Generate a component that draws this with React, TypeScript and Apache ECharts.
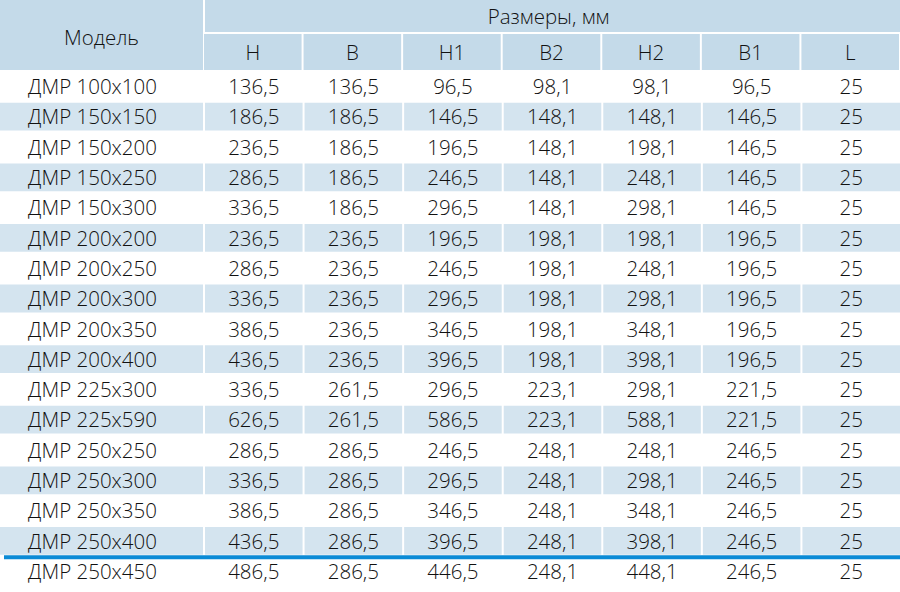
import React, { useEffect, useRef } from "react";
import * as echarts from "echarts";

const modelHeader = "Модель";
const groupHeader = "Размеры, мм";
const columns = ["H", "B", "H1", "B2", "H2", "B1", "L"];
const models = [
  "ДМР 100x100", "ДМР 150x150", "ДМР 150x200", "ДМР 150x250", "ДМР 150x300",
  "ДМР 200x200", "ДМР 200x250", "ДМР 200x300", "ДМР 200x350", "ДМР 200x400",
  "ДМР 225x300", "ДМР 225x590", "ДМР 250x250", "ДМР 250x300", "ДМР 250x350",
  "ДМР 250x400", "ДМР 250x450",
];
const colH = [136.5, 186.5, 236.5, 286.5, 336.5, 236.5, 286.5, 336.5, 386.5, 436.5, 336.5, 626.5, 286.5, 336.5, 386.5, 436.5, 486.5];
const colB = [136.5, 186.5, 186.5, 186.5, 186.5, 236.5, 236.5, 236.5, 236.5, 236.5, 261.5, 261.5, 286.5, 286.5, 286.5, 286.5, 286.5];
const colH1 = [96.5, 146.5, 196.5, 246.5, 296.5, 196.5, 246.5, 296.5, 346.5, 396.5, 296.5, 586.5, 246.5, 296.5, 346.5, 396.5, 446.5];
const colB2 = [98.1, 148.1, 148.1, 148.1, 148.1, 198.1, 198.1, 198.1, 198.1, 198.1, 223.1, 223.1, 248.1, 248.1, 248.1, 248.1, 248.1];
const colH2 = [98.1, 148.1, 198.1, 248.1, 298.1, 198.1, 248.1, 298.1, 348.1, 398.1, 298.1, 588.1, 248.1, 298.1, 348.1, 398.1, 448.1];
const colB1 = [96.5, 146.5, 146.5, 146.5, 146.5, 196.5, 196.5, 196.5, 196.5, 196.5, 221.5, 221.5, 246.5, 246.5, 246.5, 246.5, 246.5];
const colL = [25, 25, 25, 25, 25, 25, 25, 25, 25, 25, 25, 25, 25, 25, 25, 25, 25];
const values = [colH, colB, colH1, colB2, colH2, colB1, colL];
const highlightAfter = "ДМР 250x400";

const HEAD = "#c4dae9";
const SHADE = "#d4e4ef";
const TEXT = "#111111";
const BLUE = "#0b8bd6";
const FONT = "'Open Sans', 'Noto Sans', sans-serif";
const FS = 20.5;
const FW = 300;

const fmt = (v: number, c: number) =>
  c === columns.length - 1 ? String(v) : v.toFixed(1).replace(".", ",");

export default function App() {
  const ref = useRef<HTMLDivElement>(null);
  useEffect(() => {
    if (!ref.current) return;
    const chart = echarts.init(ref.current, undefined, { renderer: "svg" });
    const cellData: number[][] = [];
    values.forEach((col, c) => col.forEach((_, r) => cellData.push([c, r])));
    const modelData = models.map((_, r) => [0, r]);
    const gridBottom = 592 - 71 - 17 * 30.3;

    chart.setOption({
      animation: false,
      backgroundColor: "#ffffff",
      grid: [
        { left: 0, width: 203, top: 71, bottom: gridBottom, outerBoundsMode: "none", containLabel: false },
        { left: 203, right: 0, top: 71, bottom: gridBottom, outerBoundsMode: "none", containLabel: false },
      ],
      xAxis: [
        {
          type: "category",
          gridIndex: 0,
          position: "top",
          data: [modelHeader],
          axisLine: { show: false },
          axisTick: { show: false },
          axisLabel: {
            interval: 0,
            margin: 1,
            backgroundColor: HEAD,
            width: 203,
            height: 70,
            lineHeight: 66,
            align: "center",
            fontSize: FS,
            fontFamily: FONT,
            fontWeight: FW,
            color: TEXT,
            overflow: "none",
          },
        },
        {
          type: "category",
          gridIndex: 1,
          position: "top",
          data: columns,
          axisLine: { show: false },
          axisTick: { show: false },
          axisLabel: {
            interval: 0,
            margin: 1,
            backgroundColor: HEAD,
            width: 97.6,
            height: 36,
            lineHeight: 36,
            align: "center",
            fontSize: FS,
            fontFamily: FONT,
            fontWeight: FW,
            color: TEXT,
            overflow: "none",
          },
        },
      ],
      yAxis: [
        { type: "category", gridIndex: 0, inverse: true, data: models, show: false },
        { type: "category", gridIndex: 1, inverse: true, data: models, show: false },
      ],
      series: [
        {
          type: "custom",
          xAxisIndex: 0,
          yAxisIndex: 0,
          data: modelData,
          encode: { x: 0, y: 1 },
          clip: false,
          renderItem: (_p: any, api: any) => {
            const r = api.value(1) as number;
            const pt = api.coord([0, r]);
            const sz = api.size([1, 1]);
            const left = pt[0] - sz[0] / 2;
            const top = pt[1] - sz[1] / 2;
            const children: any[] = [];
            if (r % 2 === 1) {
              children.push({
                type: "rect",
                shape: { x: left, y: top + 1.5, width: sz[0], height: sz[1] - 2.5 },
                style: { fill: SHADE },
              });
            }
            children.push({
              type: "text",
              style: {
                text: models[r],
                x: pt[0] - 9,
                y: pt[1],
                align: "center",
                verticalAlign: "middle",
                fontSize: FS,
                fontFamily: FONT,
                fontWeight: FW,
                fill: TEXT,
              },
            });
            return { type: "group", children };
          },
        },
        {
          type: "custom",
          xAxisIndex: 1,
          yAxisIndex: 1,
          data: cellData,
          encode: { x: 0, y: 1 },
          clip: false,
          renderItem: (_p: any, api: any) => {
            const c = api.value(0) as number;
            const r = api.value(1) as number;
            const pt = api.coord([c, r]);
            const sz = api.size([1, 1]);
            const left = pt[0] - sz[0] / 2;
            const top = pt[1] - sz[1] / 2;
            const children: any[] = [];
            if (r % 2 === 1) {
              children.push({
                type: "rect",
                shape: { x: left + 2, y: top + 1.5, width: sz[0] - 2, height: sz[1] - 2.5 },
                style: { fill: SHADE },
              });
            }
            children.push({
              type: "text",
              style: {
                text: fmt(values[c][r], c),
                x: pt[0] + 1,
                y: pt[1],
                align: "center",
                verticalAlign: "middle",
                fontSize: FS,
                fontFamily: FONT,
                fontWeight: FW,
                fill: TEXT,
              },
            });
            return { type: "group", children };
          },
        },
      ],
    });

    const idx = models.indexOf(highlightAfter);
    const y1 = chart.convertToPixel({ yAxisIndex: 1 }, models[idx]) as unknown as number;
    const y2 = chart.convertToPixel({ yAxisIndex: 1 }, models[idx + 1]) as unknown as number;
    const y = (y1 + y2) / 2 + 1.5;
    const xFirst = chart.convertToPixel({ xAxisIndex: 1 }, columns[0]) as unknown as number;
    const xLast = chart.convertToPixel({ xAxisIndex: 1 }, columns[columns.length - 1]) as unknown as number;
    const pitch = (xLast - xFirst) / (columns.length - 1);
    const bandLeft = xFirst - pitch / 2 + 2;
    const bandRight = xLast + pitch / 2;
    chart.setOption({
      graphic: [
        {
          type: "rect",
          shape: { x: bandLeft, y: 0, width: bandRight - bandLeft, height: 32 },
          style: { fill: HEAD },
        },
        {
          type: "text",
          style: {
            text: groupHeader,
            x: (bandLeft + bandRight) / 2 - 4,
            y: 16,
            align: "center",
            verticalAlign: "middle",
            fontSize: FS,
            fontFamily: FONT,
            fontWeight: FW,
            fill: TEXT,
          },
        },
        {
          type: "line",
          z: 100,
          shape: { x1: 4, y1: y, x2: 900, y2: y },
          style: { stroke: BLUE, lineWidth: 4 },
        },
      ],
    });

    return () => chart.dispose();
  }, []);

  return (
    <div
      ref={ref}
      style={{ position: "absolute", left: 0, top: 0, width: 900, height: 592, background: "#fff" }}
    />
  );
}
